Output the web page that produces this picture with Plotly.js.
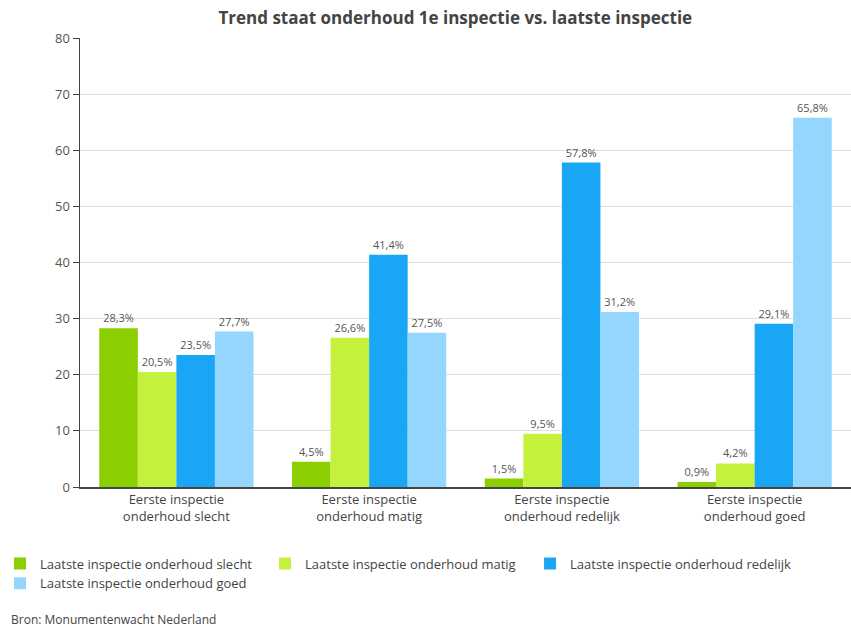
<!DOCTYPE html>
<html><head><meta charset="utf-8">
<script src="https://cdn.plot.ly/plotly-3.0.1.min.js"></script>
<style>html,body{margin:0;padding:0;background:#fff}#c{width:851px;height:630px}</style>
</head><body><div id="c"></div>
<script>
var categories = ["Eerste inspectie<br>onderhoud slecht","Eerste inspectie<br>onderhoud matig","Eerste inspectie<br>onderhoud redelijk","Eerste inspectie<br>onderhoud goed"];
var seriesNames = ["Laatste inspectie onderhoud slecht","Laatste inspectie onderhoud matig","Laatste inspectie onderhoud redelijk","Laatste inspectie onderhoud goed"];
var slecht = [28.3, 4.5, 1.5, 0.9];
var matig = [20.5, 26.6, 9.5, 4.2];
var redelijk = [23.5, 41.4, 57.8, 29.1];
var goed = [27.7, 27.5, 31.2, 65.8];
var colors = ["#8ccf00","#c4f23c","#19a7f5","#94d6fd"];
var allSeries = [slecht, matig, redelijk, goed];
var font = "Open Sans, Lato, sans-serif";
var traces = allSeries.map(function(v,i){
  return {type:"bar", x:categories, y:v, name:seriesNames[i],
    marker:{color:colors[i]},
    text:v.map(function(n){return n.toFixed(1).replace(".",",")+"%";}),
    textposition:"outside", cliponaxis:false,
    textfont:{size:11,color:"#555",family:font},
    hoverinfo:"y"};
});
var layout = {
  width:851, height:630,
  margin:{l:80,r:0,t:38,b:143,autoexpand:false},
  paper_bgcolor:"#fff", plot_bgcolor:"#fff",
  barmode:"group", bargap:0.2, bargroupgap:0,
  font:{family:font,color:"#555",size:13},
  title:{text:"<b>Trend staat onderhoud 1e inspectie vs. laatste inspectie</b>", x:0.535, xanchor:"center", y:0.972, yanchor:"middle", font:{size:17,color:"#444",family:font}},
  xaxis:{showline:true, linecolor:"#444", linewidth:1.5, ticks:"", tickfont:{size:13,color:"#444"}, fixedrange:true},
  yaxis:{range:[0,80], dtick:10, showgrid:true, gridcolor:"#ddd", showline:true, linecolor:"#444", linewidth:1.5, zeroline:false, ticks:"outside", ticklen:6, tickcolor:"#444", tickfont:{size:13,color:"#555"}},
  legend:{orientation:"h", x:-0.1037, xanchor:"left", y:-0.137, yanchor:"top", font:{size:13,color:"#444"}, traceorder:"normal", entrywidth:220, entrywidthmode:"pixels", tracegroupgap:0},
  annotations:[{text:"Bron: Monumentenwacht Nederland", xref:"paper", yref:"paper", x:-0.092, xanchor:"left", y:-0.295, yanchor:"middle", showarrow:false, font:{size:12,color:"#444"}}],
  showlegend:true
};
Plotly.newPlot("c", traces, layout, {displayModeBar:false, staticPlot:true});
</script></body></html>
